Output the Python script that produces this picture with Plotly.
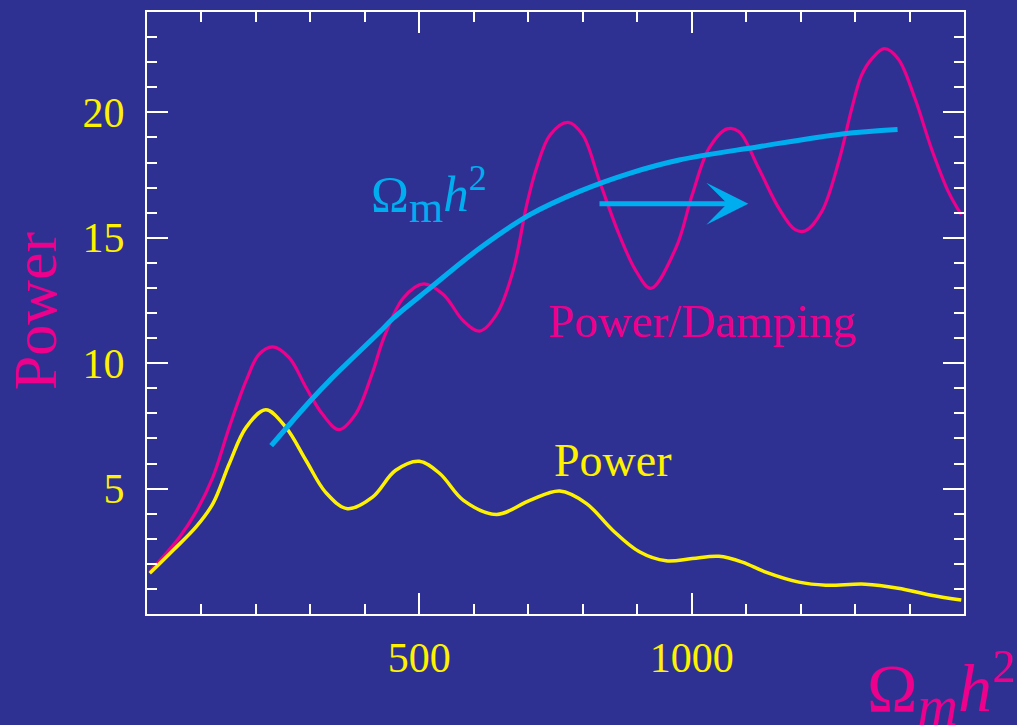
import plotly.graph_objects as go

# ---------------- data ----------------
power_x = [5, 48, 90, 121, 151, 182, 218, 255, 292, 328, 368, 414, 456, 500, 538, 581,
           642, 703, 758, 807, 855, 904, 953, 1001, 1050, 1093, 1136, 1197, 1246, 1319,
           1379, 1440, 1495]
power_y = [1.62, 2.54, 3.47, 4.40, 5.99, 7.44, 8.14, 7.44, 6.12, 4.85, 4.20, 4.66, 5.72,
           6.09, 5.59, 4.53, 3.97, 4.53, 4.90, 4.40, 3.34, 2.48, 2.12, 2.21, 2.30, 2.07,
           1.67, 1.27, 1.15, 1.19, 1.03, 0.75, 0.56]

damp_x = [5, 60, 90, 121, 151, 182, 206, 231, 261, 292, 322, 352, 383, 413, 435, 471,
          508, 544, 581, 611, 642, 672, 697, 715, 740, 773, 800, 831, 867, 898, 925, 971,
          1001, 1032, 1065, 1087, 1123, 1160, 1190, 1209, 1239, 1270, 1294, 1312, 1331,
          1354, 1379, 1410, 1440, 1471, 1495]
damp_y = [1.68, 3.07, 4.07, 5.46, 7.44, 9.30, 10.36, 10.65, 10.22, 9.03, 7.97, 7.35, 7.97,
          9.56, 11.02, 12.61, 13.16, 12.74, 11.68, 11.28, 11.95, 13.67, 16.30, 17.77, 19.10,
          19.60, 19.10, 17.24, 15.12, 13.67, 12.98, 14.59, 16.71, 18.57, 19.34, 19.23,
          17.77, 16.18, 15.32, 15.28, 16.05, 18.04, 20.16, 21.48, 22.14, 22.54, 22.14,
          20.55, 18.57, 16.85, 15.92]

omega_x = [228, 300, 337, 429, 453, 520, 612, 703, 794, 886, 977, 1123, 1276, 1378]
omega_y = [6.71, 8.5, 9.35, 11.28, 11.81, 13.0, 14.6, 15.92, 16.85, 17.57, 18.10, 18.63,
           19.14, 19.32]

arrow_start = (828, 16.36)
arrow_end = (1104, 16.36)

x_tickvals = [500, 1000]
x_ticktext = ["500", "1000"]
y_tickvals = [5, 10, 15, 20]
y_ticktext = ["5", "10", "15", "20"]

# ---------------- styles ----------------
BG = "#2E3192"
PINK = "#EC008C"
YELLOW = "#FFF200"
CYAN = "#00AEEF"
SERIF = "Liberation Serif"

fig = go.Figure()
fig.add_trace(go.Scatter(x=damp_x, y=damp_y, mode="lines",
                         line=dict(color=PINK, width=3.2, shape="spline", smoothing=1.0),
                         showlegend=False))
fig.add_trace(go.Scatter(x=power_x, y=power_y, mode="lines",
                         line=dict(color=YELLOW, width=3.5, shape="spline", smoothing=1.0),
                         showlegend=False))
fig.add_trace(go.Scatter(x=omega_x, y=omega_y, mode="lines",
                         line=dict(color=CYAN, width=5, shape="spline", smoothing=1.0),
                         showlegend=False))

# arrow
fig.add_annotation(x=arrow_end[0], y=arrow_end[1], ax=arrow_start[0], ay=arrow_start[1],
                   xref="x", yref="y", axref="x", ayref="y", text="", showarrow=True,
                   arrowhead=3, arrowsize=1.4, arrowwidth=5, arrowcolor=CYAN, standoff=0)

# text labels
fig.add_annotation(x=408, y=16.7, xref="x", yref="y", xanchor="left", yanchor="middle",
                   text="Ω<sub><span style='font-size:44px'>m</span></sub><i>h</i>"
                        "<sup><span style='font-size:36px'>2</span></sup>",
                   showarrow=False, font=dict(family=SERIF, size=51, color=CYAN))
fig.add_annotation(x=732, y=11.7, xref="x", yref="y", xanchor="left", yanchor="middle",
                   text="Power/Damping", showarrow=False,
                   font=dict(family=SERIF, size=47, color=PINK))
fig.add_annotation(x=743, y=6.1, xref="x", yref="y", xanchor="left", yanchor="middle",
                   text="Power", showarrow=False,
                   font=dict(family=SERIF, size=46, color=YELLOW))

# axis titles as annotations
fig.add_annotation(x=-0.137, y=0.503, xref="paper", yref="paper", xanchor="center",
                   yanchor="middle", textangle=-90, text="Power", showarrow=False,
                   font=dict(family=SERIF, size=62, color=PINK))
fig.add_annotation(x=0.879, y=-0.125, xref="paper", yref="paper", xanchor="left",
                   yanchor="middle",
                   text="Ω<sub><i><span style='font-size:56px'>m</span></i></sub><i>h</i>"
                        "<sup><span style='font-size:46px'>2</span></sup>",
                   showarrow=False, font=dict(family=SERIF, size=68, color=PINK))

axis_common = dict(showline=True, linecolor="white", linewidth=2, mirror="allticks",
                   ticks="inside", tickcolor="white", tickwidth=2, ticklen=21,
                   showgrid=False, zeroline=False,
                   tickfont=dict(family=SERIF, size=42, color=YELLOW))

fig.update_xaxes(range=[0, 1500], tickmode="array", tickvals=x_tickvals, ticktext=x_ticktext,
                 minor=dict(ticks="inside", dtick=100, tick0=0, ticklen=10, tickwidth=2,
                            tickcolor="white", showgrid=False),
                 ticklabelstandoff=6, **axis_common)
fig.update_yaxes(range=[0, 24], tickmode="array", tickvals=y_tickvals, ticktext=y_ticktext,
                 minor=dict(ticks="inside", dtick=1, tick0=0, ticklen=10, tickwidth=2,
                            tickcolor="white", showgrid=False),
                 ticklabelstandoff=12, **axis_common)

fig.update_layout(width=1017, height=725, paper_bgcolor=BG, plot_bgcolor=BG,
                  margin=dict(l=147, r=53, t=10, b=111), showlegend=False)

fig.write_html("out.html")
